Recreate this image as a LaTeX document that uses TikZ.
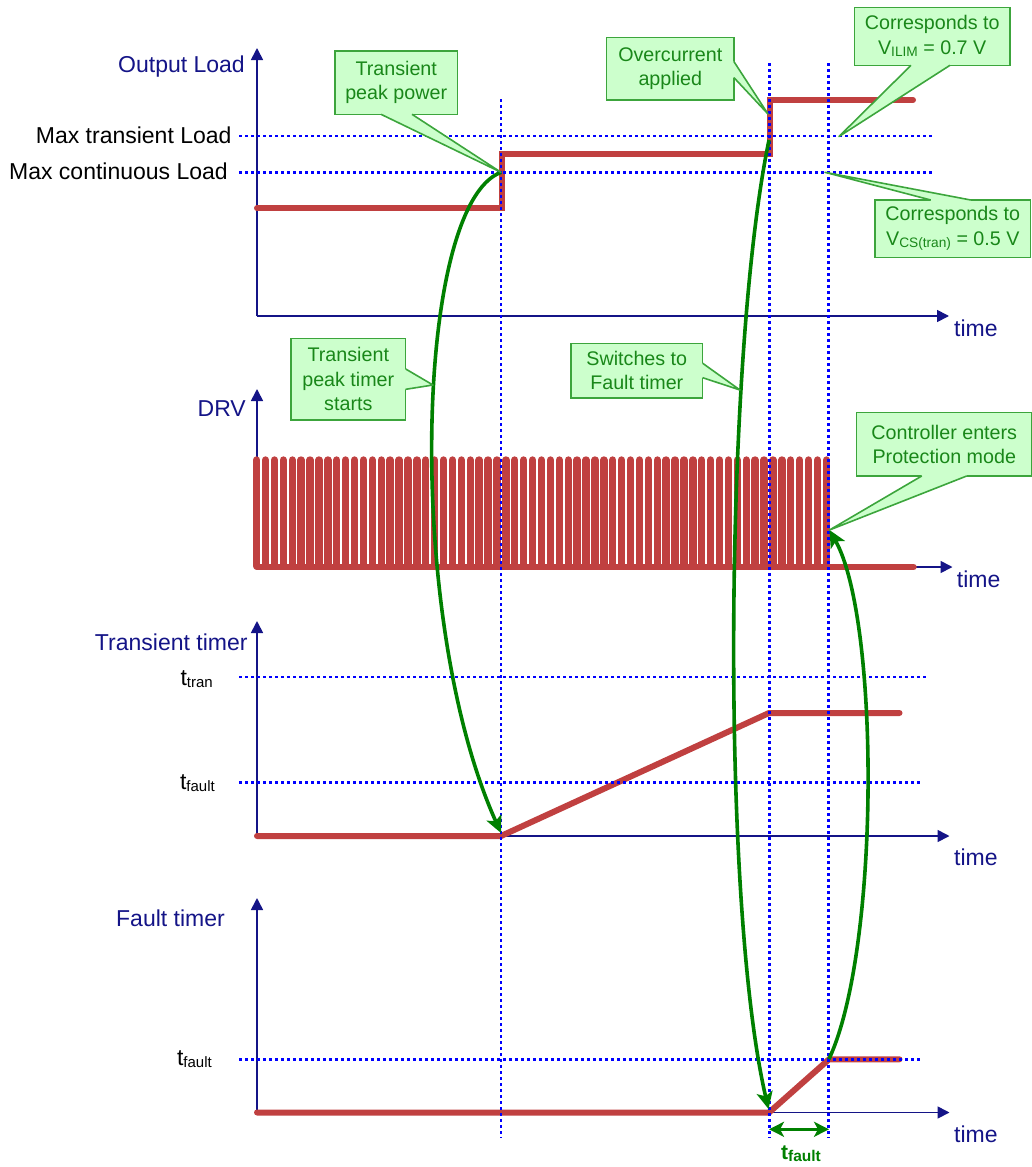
\documentclass[tikz,border=0pt]{standalone}
\usepackage{fontspec}
\setmainfont{Liberation Sans}
\usetikzlibrary{arrows.meta}
\definecolor{axisblue}{RGB}{20,20,135}
\definecolor{dotblue}{RGB}{0,0,255}
\definecolor{sigred}{RGB}{192,64,64}
\definecolor{arrgreen}{RGB}{0,128,0}
\definecolor{callfill}{RGB}{204,255,204}
\definecolor{callborder}{RGB}{60,165,60}
\definecolor{calltext}{RGB}{25,135,25}
\newcommand{\lsub}[2][15]{\raisebox{-2.8pt}{\fontsize{#1}{#1}\selectfont #2}}
\tikzset{
 axisline/.style={draw=axisblue, line width=1.7pt, -{Triangle[length=12pt,width=12pt]}},
 gridline/.style={draw=dotblue, line width=2.8pt, dash pattern=on 3.2pt off 2.8pt},
 sigline/.style={draw=sigred, line width=6pt, line cap=round, line join=miter},
 pulseline/.style={draw=sigred, line width=7.4pt, line cap=round},
 flowarrow/.style={draw=arrgreen, line width=3.6pt, -{Stealth[length=17pt,width=16pt,inset=4pt]}},
 dimarrow/.style={draw=arrgreen, line width=3.6pt, {Stealth[length=15pt,width=15pt,inset=4pt]}-{Stealth[length=15pt,width=15pt,inset=4pt]}},
 axlabel/.style={text=axisblue, font=\fontsize{23}{27}\selectfont, inner sep=0pt},
 levlabel/.style={text=black, font=\fontsize{23}{27}\selectfont, inner sep=0pt},
 callbox/.style={draw=callborder, fill=callfill, line width=1.6pt, text=calltext, font=\fontsize{19.7}{24.3}\selectfont, align=center, inner sep=0pt},
 wedgefill/.style={fill=callfill},
 wedgeline/.style={draw=callborder, line width=1.6pt, line join=round},
}
\begin{document}
\begin{tikzpicture}[x=1pt,y=-1pt]
\useasboundingbox (0,0) rectangle (1031,1167);
% ---------- key points ----------
\coordinate (loadstep) at (501,172.3);
\coordinate (transtart) at (501,833);
\coordinate (ocpt) at (768,114);
\coordinate (ocstart) at (769,140);
\coordinate (faultstart) at (768.5,1109);
\coordinate (faultend) at (829,1059);
\coordinate (protect) at (829.5,530);
\coordinate (ilimpt) at (839,136.5);
\coordinate (cspt) at (825,172.3);
\coordinate (tptpt) at (433,385);
\coordinate (swpt) at (740,390);
\coordinate (dimL) at (769,1129.3);
\coordinate (dimR) at (829,1129.3);

% ---------- axes ----------
\draw[axisline] (257,316) -- (949,316);
\draw[axisline] (257,316) -- (257,48);
\draw[axisline] (257,567) -- (952.5,567);
\draw[axisline] (257,567) -- (257,389);
\draw[axisline] (257,836) -- (949.5,836);
\draw[axisline] (257,836) -- (257,621);
\draw[axisline] (257,1112.5) -- (949.5,1112.5);
\draw[axisline] (257,1112.5) -- (257,898);

% ---------- signals ----------
\draw[sigline] (257,208.3) -- (501.5,208.3) -- (501.5,154.3) -- (770,154.3) -- (770,100) -- (913,100);
\foreach \i in {0,...,64} {
  \draw[pulseline] ({256.6+8.903*\i},566) -- ({256.6+8.903*\i},460);
}
\draw[sigline, line width=6.5pt] (257,567) -- (913.5,567);
\draw[sigline] (257,836) -- (501,836) -- (769,713) -- (899.5,713);
\draw[sigline] (257,1112.5) -- (769,1112.5) -- (829,1059.3) -- (899.5,1059.3);

% ---------- dotted guide lines ----------
\draw[gridline] (239,136) -- (933,136);
\draw[gridline] (239,172.3) -- (933,172.3);
\draw[gridline] (239,677) -- (928,677);
\draw[gridline] (239,782.3) -- (922,782.3);
\draw[gridline] (239,1059.3) -- (922,1059.3);
\draw[gridline] (501,99) -- (501,1138);
\draw[gridline] (769.3,63) -- (769.3,1138);
\draw[gridline] (828.7,63) -- (828.7,1138);

% ---------- labels ----------
\node[axlabel, anchor=base east] (lblload) at (245,72.5) {Output Load};
\node[levlabel, anchor=base east] (lblmaxt) at (231.7,143.3) {Max transient Load};
\node[levlabel, anchor=base east] (lblmaxc) at (228,179) {Max continuous Load};
\node[axlabel, anchor=base east] (lbldrv) at (246,416) {DRV};
\node[axlabel, anchor=base east] (lbltt) at (247.7,650) {Transient timer};
\node[axlabel, anchor=base east] (lblft) at (225,926.7) {Fault timer};
\node[levlabel, anchor=base east] (lblttran) at (213,685) {t\lsub{tran}};
\node[levlabel, anchor=base east] (lbltf1) at (215,789) {t\lsub{fault}};
\node[levlabel, anchor=base east] (lbltf2) at (212,1065) {t\lsub{fault}};
\node[axlabel, anchor=base west] (time1) at (954,336) {time};
\node[axlabel, anchor=base west] (time2) at (956.7,587.3) {time};
\node[axlabel, anchor=base west] (time3) at (954,865) {time};
\node[axlabel, anchor=base west] (time4) at (954,1142) {time};

% ---------- green arrows ----------
\draw[flowarrow] (loadstep) .. controls (414,205) and (405,620) .. (transtart);
\draw[flowarrow] (ocstart) .. controls (725,350) and (720,900) .. (faultstart);
\draw[flowarrow] (faultend) .. controls (880,950) and (880,620) .. (protect);
\draw[dimarrow] (dimL) -- (dimR);
\node[text=arrgreen, font=\fontsize{21}{25}\selectfont\bfseries, inner sep=0pt, anchor=base] (lbltfd) at (801,1159) {t\lsub[15.5]{fault}};

% ---------- callouts ----------
% 1 Transient peak power
\node[callbox, minimum width=122.3pt, minimum height=63.3pt] (c1) at (396.2,82.7) {Transient\\peak power};
\fill[wedgefill] (381,114.3) -- (loadstep) -- (412,114.3) -- (412,111) -- (381,111) -- cycle;
\draw[wedgeline] (381,114.3) -- (loadstep) -- (412,114.3);
% 2 Overcurrent applied
\node[callbox, minimum width=127.3pt, minimum height=62.7pt] (c2) at (670.3,68.7) {Overcurrent\\applied};
\fill[wedgefill] (734,61.7) -- (ocpt) -- (734,77.7) -- (731,77.7) -- (731,61.7) -- cycle;
\draw[wedgeline] (734,61.7) -- (ocpt) -- (734,77.7);
% 3 V_ILIM
\node[callbox, minimum width=155.7pt, minimum height=58pt] (c3) at (932.2,36.3) {Corresponds to\\V\lsub[13.7]{ILIM} = 0.7 V};
\fill[wedgefill] (911,65.3) -- (ilimpt) -- (950,65.3) -- (950,62) -- (911,62) -- cycle;
\draw[wedgeline] (911,65.3) -- (ilimpt) -- (950,65.3);
% 4 V_CS(tran)
\node[callbox, minimum width=155.7pt, minimum height=57.3pt] (c4) at (952.8,228.7) {Corresponds to\\V\lsub[13.7]{CS(tran)} = 0.5 V};
\fill[wedgefill] (930.7,200) -- (cspt) -- (970.7,200) -- (970.7,203) -- (930.7,203) -- cycle;
\draw[wedgeline] (930.7,200) -- (cspt) -- (970.7,200);
% 5 Transient peak timer starts
\node[callbox, minimum width=114.7pt, minimum height=81.7pt] (c5) at (348.3,379.2) {Transient\\peak timer\\starts};
\fill[wedgefill] (405.7,369) -- (tptpt) -- (405.7,389.3) -- (402.5,389.3) -- (402.5,369) -- cycle;
\draw[wedgeline] (405.7,369) -- (tptpt) -- (405.7,389.3);
% 6 Switches to Fault timer
\node[callbox, minimum width=131.7pt, minimum height=54.4pt] (c6) at (636.8,370.5) {Switches to\\Fault timer};
\fill[wedgefill] (702.7,363.3) -- (swpt) -- (702.7,377.7) -- (699.5,377.7) -- (699.5,363.3) -- cycle;
\draw[wedgeline] (702.7,363.3) -- (swpt) -- (702.7,377.7);
% 7 Controller enters Protection mode
\node[callbox, minimum width=175.3pt, minimum height=63.3pt] (c7) at (944.3,444.3) {Controller enters\\Protection mode};
\fill[wedgefill] (921.7,476) -- (protect) -- (966.7,476) -- (966.7,472.8) -- (921.7,472.8) -- cycle;
\draw[wedgeline] (921.7,476) -- (protect) -- (966.7,476);
\end{tikzpicture}
\end{document}
